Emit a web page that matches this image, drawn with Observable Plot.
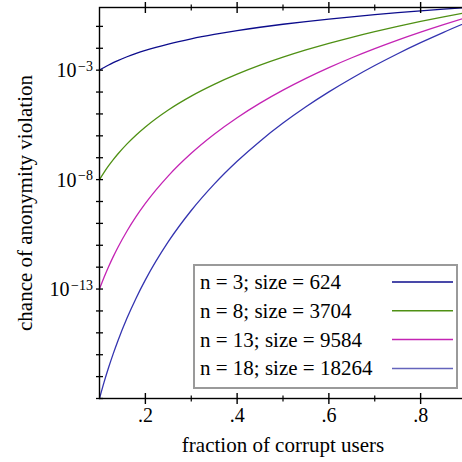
<!DOCTYPE html>
<html><head><meta charset="utf-8">
<script src="https://cdn.jsdelivr.net/npm/d3@7"></script>
<script src="https://cdn.jsdelivr.net/npm/@observablehq/plot@0.6"></script>
<style>
html,body{margin:0;padding:0;background:#fff;overflow:hidden}
#wrap{position:relative;width:462px;height:462px}
</style>
</head><body><div id="wrap"></div>
<script>
// fraction of corrupt users (x) and chance of anonymity violation per series
const xs = [0.10,0.11,0.12,0.13,0.14,0.16,0.18,0.20,0.25,0.30,0.35,0.40,0.45,0.50,0.55,0.60,0.65,0.70,0.75,0.80,0.85,0.90];
const n3 = [1.0e-3,1.331e-3,1.728e-3,2.197e-3,2.744e-3,4.096e-3,5.832e-3,8.0e-3,1.5625e-2,2.7e-2,4.2875e-2,6.4e-2,9.1125e-2,0.125,0.166375,0.216,0.274625,0.343,0.421875,0.512,0.614125,0.729];
const n8 = [1.0e-8,2.1436e-8,4.2998e-8,8.1573e-8,1.4758e-7,4.295e-7,1.1020e-6,2.56e-6,1.5259e-5,6.561e-5,2.2519e-4,6.5536e-4,1.6815e-3,3.9063e-3,8.3734e-3,1.6796e-2,3.1864e-2,5.7648e-2,0.10011,0.16777,0.27249,0.43047];
const n13 = [1.0e-13,3.4523e-13,1.0699e-12,3.0288e-12,7.937e-12,4.5036e-11,2.0823e-10,8.192e-10,1.4901e-8,1.5943e-7,1.1827e-6,6.7109e-6,3.1029e-5,1.2207e-4,4.2142e-4,1.3061e-3,3.6972e-3,9.6889e-3,2.3757e-2,5.4976e-2,0.12091,0.25419];
const n18 = [1.0e-18,5.5599e-18,2.6622e-17,1.1246e-16,4.2687e-16,4.7224e-15,3.9347e-14,2.6214e-13,1.4552e-11,3.8742e-10,6.2119e-9,6.8719e-8,5.7256e-7,3.8147e-6,2.1209e-5,1.0156e-4,4.2898e-4,1.6284e-3,5.6377e-3,1.8014e-2,5.3647e-2,0.15009];

const seriesNames = ["n = 3; size = 624","n = 8; size = 3704","n = 13; size = 9584","n = 18; size = 18264"];
const seriesValues = [n3, n8, n13, n18];
const seriesColors = ["#0c0c8c","#4f9014","#c424b4","#3434b0"];
const legendColors = ["#0c0c8c","#4f9014","#c424b4","#6464bc"];

const xMajorTicks = [0.2,0.4,0.6,0.8];
const xMinorTicks = [0.3,0.5,0.7];
const xTickLabels = [".2",".4",".6",".8"];
const yDecades = [1e-18,1e-17,1e-16,1e-15,1e-14,1e-13,1e-12,1e-11,1e-10,1e-9,1e-8,1e-7,1e-6,1e-5,1e-4,1e-3,1e-2,1e-1];
const yLabelTicks = [1e-3,1e-8,1e-13];
const yLabelExps = ["\u22123","\u22128","\u221213"];
const xTitle = "fraction of corrupt users";
const yTitle = "chance of anonymity violation";

const xDomain = [0.1, 0.9];
const yDomain = [1e-18, 0.729];

const data = [];
seriesNames.forEach((name, k) => xs.forEach((x, i) => data.push({series: name, x, y: seriesValues[k][i]})));

const vTick = (h) => ({draw(ctx){ ctx.moveTo(0,-h); ctx.lineTo(0,h); }});
const hTick = (w) => ({draw(ctx){ ctx.moveTo(-w,0); ctx.lineTo(w,0); }});

const plot = Plot.plot({
  width: 462, height: 462,
  marginLeft: 99, marginRight: -4, marginTop: 7, marginBottom: 64,
  x: {domain: xDomain, axis: null},
  y: {type: "log", domain: yDomain, axis: null},
  color: {domain: seriesNames, range: seriesColors},
  style: {fontFamily: "Liberation Serif", fontSize: "20px", background: "white", color: "black"},
  marks: [
    Plot.line(data, {x: "x", y: "y", z: "series", stroke: "series", strokeWidth: 1.3, curve: "monotone-x"}),
    Plot.frame({stroke: "black", strokeWidth: 1.4}),
    // x ticks bottom and top
    Plot.dot(xMajorTicks, {x: d => d, y: yDomain[0], symbol: vTick(5.5), stroke: "black", fill: "none", strokeWidth: 1.4}),
    Plot.dot(xMajorTicks, {x: d => d, y: yDomain[1], symbol: vTick(5.5), stroke: "black", fill: "none", strokeWidth: 1.4}),
    Plot.dot(xMinorTicks, {x: d => d, y: yDomain[0], symbol: vTick(3), stroke: "black", fill: "none", strokeWidth: 1.2}),
    Plot.dot(xMinorTicks, {x: d => d, y: yDomain[1], symbol: vTick(3), stroke: "black", fill: "none", strokeWidth: 1.2}),
    // y ticks left and right
    Plot.dot(yDecades, {x: xDomain[0], y: d => d, symbol: hTick(3.5), stroke: "black", fill: "none", strokeWidth: 1.3}),
    Plot.dot(yDecades, {x: xDomain[1], y: d => d, symbol: hTick(3.5), stroke: "black", fill: "none", strokeWidth: 1.3}),
    // x tick labels
    Plot.text(xMajorTicks, {x: d => d, y: yDomain[0], text: (d, i) => xTickLabels[i], lineAnchor: "top", dy: 9.5, fill: "black", fontSize: 20}),
    // titles
    Plot.text([xTitle], {frameAnchor: "bottom", text: d => d, textAnchor: "middle", lineAnchor: "middle", dy: 47, fill: "black", fontSize: 21}),
    Plot.text([yTitle], {frameAnchor: "left", text: d => d, textAnchor: "middle", rotate: -90, lineAnchor: "middle", dx: -74, fill: "black", fontSize: 21})
  ]
});

document.getElementById("wrap").appendChild(plot);

// y tick labels with superscript exponents
const svg = d3.select(plot);
const ys = plot.scale("y"), xsScale = plot.scale("x");
const x0 = xsScale.apply(xDomain[0]);
yLabelTicks.forEach((v, i) => {
  const t = svg.append("text")
    .attr("x", x0 - 6).attr("y", ys.apply(v) + 7.5)
    .attr("text-anchor", "end")
    .attr("font-family", "Liberation Serif").attr("font-size", 20).attr("fill", "black");
  t.append("tspan").text("10");
  t.append("tspan").attr("dx", 1.5).attr("dy", -6.5).attr("font-size", 14).text(yLabelExps[i]);
});

// legend box
const lg = svg.append("g").attr("font-family", "Liberation Serif").attr("font-size", 21).attr("text-anchor", "start");
lg.append("rect").attr("x", 194).attr("y", 265).attr("width", 263).attr("height", 123)
  .attr("fill", "white").attr("stroke", "#9a9a9a").attr("stroke-width", 2);
seriesNames.forEach((name, i) => {
  const cy = 282 + i * 28.8;
  lg.append("text").attr("x", 200).attr("y", cy + 7).attr("fill", "black").text(name);
  lg.append("line").attr("x1", 392).attr("x2", 453).attr("y1", cy).attr("y2", cy)
    .attr("stroke", legendColors[i]).attr("stroke-width", 1.5);
});
</script>
</body></html>
